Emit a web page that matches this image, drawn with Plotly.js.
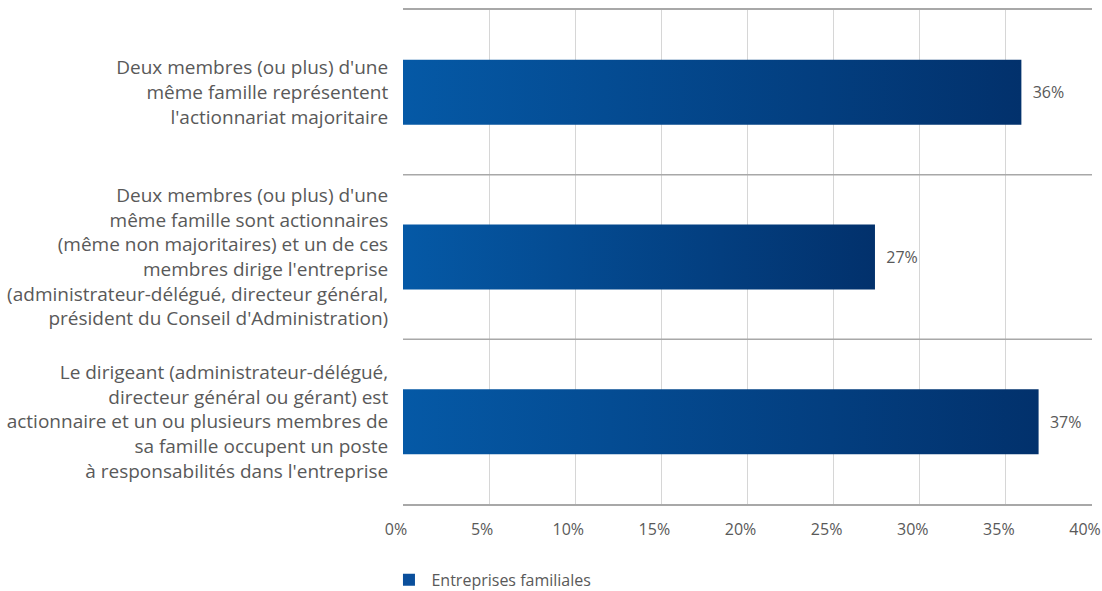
<!DOCTYPE html>
<html>
<head>
<meta charset="utf-8">
<script src="https://cdn.plot.ly/plotly-3.0.1.min.js"></script>
<style>html,body{margin:0;padding:0;background:#fff;}#chart{width:1102px;height:591px;}</style>
</head>
<body>
<div id="chart"></div>
<script>
const categories = [
  "Deux membres (ou plus) d'une<br>même famille représentent<br>l'actionnariat majoritaire",
  "Deux membres (ou plus) d'une<br>même famille sont actionnaires<br>(même non majoritaires) et un de ces<br>membres dirige l'entreprise<br>(administrateur-délégué, directeur général,<br>président du Conseil d'Administration)",
  "Le dirigeant (administrateur-délégué,<br>directeur général ou gérant) est<br>actionnaire et un ou plusieurs membres de<br>sa famille occupent un poste<br>à responsabilités dans l'entreprise"
];
const values = [35.9, 27.4, 36.9];
const seriesName = "Entreprises familiales";
const xTickVals = [0, 5, 10, 15, 20, 25, 30, 35, 40];
const xTickText = ["0%", "5%", "10%", "15%", "20%", "25%", "30%", "35%", "40%"];

const font = "Open Sans, Noto Sans, sans-serif";
const textColor = "#595959";

const trace = {
  type: "bar",
  orientation: "h",
  y: categories,
  x: values,
  name: seriesName,
  marker: {color: "#0a4f9c", line: {width: 0}},
  texttemplate: "\u00a0\u00a0%{x:.0f}%",
  textposition: "outside",
  textfont: {family: font, size: 16, color: textColor},
  cliponaxis: false,
  hoverinfo: "skip"
};

const layout = {
  width: 1102, height: 591,
  margin: {l: 403, r: 10, t: 10, b: 87, autoexpand: false},
  paper_bgcolor: "#fff", plot_bgcolor: "#fff",
  bargap: 0.605,
  showlegend: true,
  legend: {
    orientation: "h", x: -0.024, xanchor: "left", y: -0.119, yanchor: "top",
    font: {family: font, size: 16, color: textColor},
    itemwidth: 35
  },
  xaxis: {
    range: [0, 40],
    tickvals: xTickVals, ticktext: xTickText,
    showgrid: true, gridcolor: "#d6d6d6", gridwidth: 1,
    zeroline: false,
    showline: true, linecolor: "#a8a8a8", linewidth: 2, mirror: true,
    ticks: "outside", ticklen: 10, tickcolor: "rgba(0,0,0,0)",
    tickfont: {family: font, size: 16, color: textColor},
    ticklabelshift: -7,
    ticklabeloverflow: "allow",
    fixedrange: true
  },
  yaxis: {
    type: "category",
    autorange: "reversed",
    showgrid: false, zeroline: false, showline: false,
    ticks: "outside", ticklen: 10, tickcolor: "rgba(0,0,0,0)",
    tickfont: {family: font, size: 19, color: textColor},
    fixedrange: true
  },
  shapes: [
    {type: "line", xref: "paper", yref: "paper", x0: 0, x1: 1, y0: 1/3, y1: 1/3, line: {color: "#a8a8a8", width: 1.5}},
    {type: "line", xref: "paper", yref: "paper", x0: 0, x1: 1, y0: 2/3, y1: 2/3, line: {color: "#a8a8a8", width: 1.5}}
  ]
};

Plotly.newPlot("chart", [trace], layout, {displayModeBar: false, staticPlot: true}).then(function(gd){
  const svg = gd.querySelector(".main-svg");
  let defs = svg.querySelector("defs");
  const ns = "http://www.w3.org/2000/svg";
  if (!defs) { defs = document.createElementNS(ns, "defs"); svg.insertBefore(defs, svg.firstChild); }
  const grad = document.createElementNS(ns, "linearGradient");
  grad.setAttribute("id", "barGrad");
  grad.setAttribute("x1", "0"); grad.setAttribute("x2", "1");
  grad.setAttribute("y1", "0"); grad.setAttribute("y2", "0");
  [["0%", "#0559a6"], ["100%", "#02316c"]].forEach(function(s){
    const st = document.createElementNS(ns, "stop");
    st.setAttribute("offset", s[0]); st.setAttribute("stop-color", s[1]);
    grad.appendChild(st);
  });
  defs.appendChild(grad);
  gd.querySelectorAll(".barlayer .point path").forEach(function(p){ p.style.fill = "url(#barGrad)"; });
});
</script>
</body>
</html>
